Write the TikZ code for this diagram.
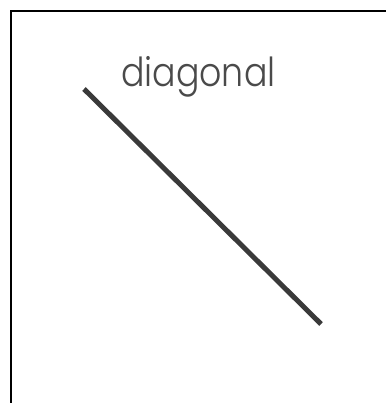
\documentclass[tikz,border=0pt]{standalone}
\usepackage{fontspec}
\newfontfamily\thinfont{Poppins Light}
\usepackage{tikz}
\usetikzlibrary{calc}
\definecolor{linegray}{HTML}{3A3A3A}
\definecolor{textgray}{HTML}{4A4A4A}

\begin{document}
\begin{tikzpicture}[x=1pt, y=-1pt]
    \useasboundingbox (0,0) rectangle (386,403);
    \coordinate (A) at (84,89);
    \coordinate (B) at (321,324);

    \draw[line width=2.2pt, color=black] (11,403) -- (11,11) -- (386,11);
    \draw[line width=5pt, color=linegray] (A) -- (B);
    \node[anchor=base west, inner sep=0pt, color=textgray, font=\thinfont\fontsize{40}{40}\selectfont] (label) at (121,87) {\scalebox{0.87}[1]{diagonal}};
\end{tikzpicture}
\end{document}
